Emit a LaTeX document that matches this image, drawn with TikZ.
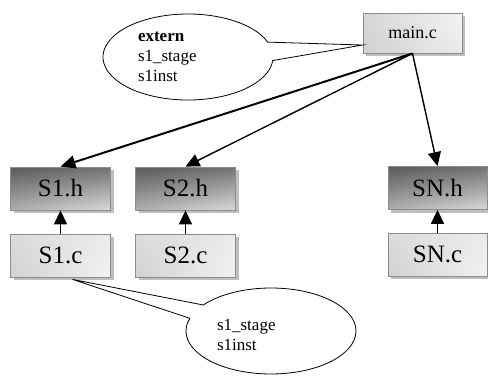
\documentclass[tikz,border=0pt]{standalone}
\usepackage{fontspec}
\setmainfont{Liberation Serif}
\usetikzlibrary{arrows.meta,shapes.callouts,shadows,shadings}
\begin{document}
\begin{tikzpicture}[x=1pt,y=-1pt,
  filebox/.style={rectangle, draw=black!45, line width=0.8pt, minimum width=100pt, minimum height=43pt,
    inner sep=0pt, font=\fontsize{25}{28}\selectfont,
    drop shadow={fill=black!25, opacity=1, shadow xshift=3pt, shadow yshift=-3pt}},
  hbox/.style={filebox, upper left=black!65, upper right=black!55, lower left=black!32, lower right=black!15},
  cbox/.style={filebox, upper left=black!14, upper right=black!8, lower left=black!18, lower right=black!5},
  bubble/.style={ellipse callout, draw=black, fill=white, line width=0.8pt, minimum width=170pt, minimum height=86pt,
    inner sep=0pt, align=left, font=\fontsize{17}{20}\selectfont},
  arr/.style={-{Triangle[length=14pt 0 0,width=13pt 0 0]}, line width=1.4pt, shorten >=0pt},
  thickarr/.style={-{Triangle[length=15pt 0 0,width=13pt 0 0]}, line width=2pt}]
\useasboundingbox (0,0) rectangle (488,378);
\node[cbox, minimum width=99pt, minimum height=40pt, font=\fontsize{18}{21}\selectfont,
  upper left=black!16, upper right=black!5, lower left=black!18, lower right=black!8] (main) at (412.5,33) {main.c};
\node[hbox] (s1h) at (60.5,188.5) {S1.h};
\node[cbox] (s1c) at (60.5,255.5) {S1.c};
\node[hbox] (s2h) at (185.5,188.5) {S2.h};
\node[cbox] (s2c) at (185.5,255.5) {S2.c};
\node[hbox, minimum width=99pt] (snh) at (437.5,188) {SN.h};
\node[cbox, minimum width=99pt] (snc) at (437.5,254.5) {SN.c};
\node[bubble, text width=100pt, callout pointer arc=25,
  callout absolute pointer={([yshift=-12pt]main.west)}] (b1) at (188,57)
  {\textbf{extern}\\s1\_stage\\s1inst};
\node[bubble, text width=108pt, text depth=12pt, callout pointer arc=20,
  callout absolute pointer={([xshift=12pt,yshift=-2pt]s1c.south)}] (b2) at (271,331)
  {s1\_stage\\s1inst};
\draw[thickarr] (main.south) -- (s1h.north);
\draw[arr] (main.south) -- (s2h.north);
\draw[arr] (main.south) -- (snh.north);
\draw[arr] (s1c.north) -- (s1h.south);
\draw[arr] (s2c.north) -- (s2h.south);
\draw[arr] (snc.north) -- (snh.south);
\end{tikzpicture}
\end{document}
